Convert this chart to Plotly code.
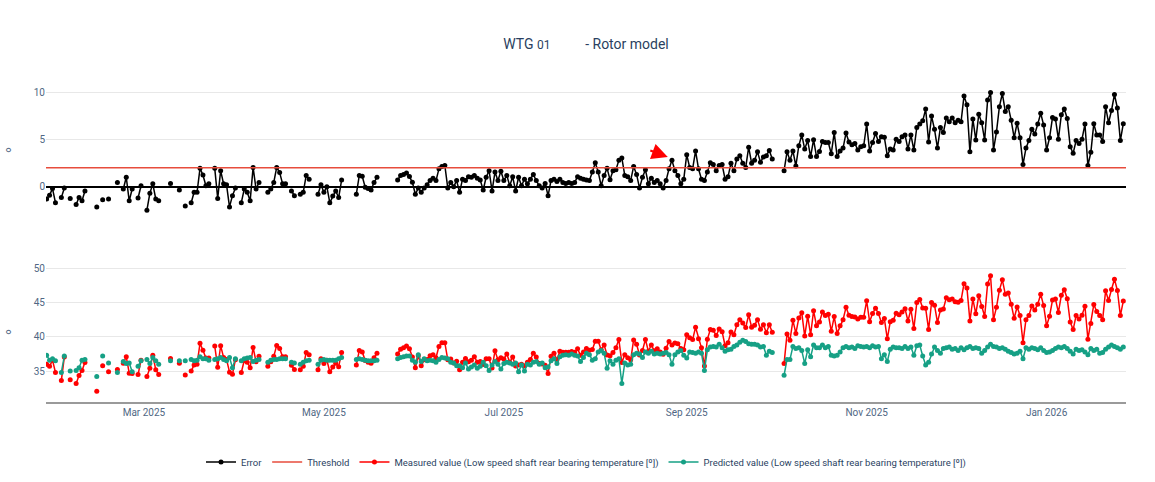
import pandas as pd
import plotly.graph_objects as go
from plotly.subplots import make_subplots

N = None
start_date = "2025-01-27"
n_days = 366
dates = pd.date_range(start_date, periods=n_days, freq="D")

error = [
    -1.3, -0.9, -0.2, -1.7, N, -1.15, -0.15, N, -1.25, N,
    -1.9, -1.15, -1.5, -0.45, N, N, N, -2.15, N, -1.4,
    N, -1.3, N, N, 0.45, N, -0.25, 1.0, -1.5, -0.25,
    N, -1.2, 0.1, N, -2.5, -0.7, 0.3, -1.3, -1.5, N,
    N, N, 0.35, N, N, -0.35, N, -2.05, N, -1.7,
    -0.6, -0.6, 1.95, 1.25, 0.1, 0.3, N, 1.95, -1.25, 1.7,
    0.3, 0.2, -2.15, -0.95, -0.15, N, -1.7, -0.25, -0.6, -1.5,
    2.05, -0.25, 0.45, N, N, -0.6, -0.25, 0.45, 2.05, 1.5,
    0.3, 0.3, N, -0.45, -0.95, N, -0.8, -0.6, 1.2, 0.8,
    N, N, -0.8, 0.2, -0.6, 0.0, -1.7, -1.0, -0.45, -1.15,
    0.7, N, N, N, N, -0.8, 1.2, 1.1, -0.05, -0.2,
    -0.35, 0.45, 1.0, N, N, N, N, N, N, 0.7,
    1.2, 1.3, 1.45, 1.07, 0.46, -0.8, -0.15, -0.6, -0.15, 0.2,
    0.65, 0.9, 0.65, 1.9, 2.15, 2.25, -0.15, 0.45, 0.0, 0.65,
    -0.6, 0.8, 0.65, 1.05, 1.0, 1.2, 0.9, 0.7, -0.35, 1.0,
    1.7, -0.45, 1.55, 0.65, 1.65, 0.65, 1.2, 0.1, 1.05, -0.45,
    1.0, 0.1, 0.8, 0.3, 0.8, 1.3, 0.65, 0.1, -0.15, 0.35,
    -0.95, 0.65, 0.8, 0.55, 0.8, 0.45, 0.35, 0.45, 0.35, 0.45,
    1.05, 0.9, 0.8, 0.7, 0.65, 1.55, 2.55, 1.55, 0.1, 1.2,
    1.95, 0.75, 1.7, 1.8, 2.8, 3.05, 1.2, 1.05, 0.65, 2.15,
    1.3, -0.15, 1.0, 1.8, 0.3, 0.9, 0.45, 0.65, 0.3, -0.15,
    0.65, 1.9, 2.8, 1.7, 1.2, 0.3, 0.8, 3.4, 2.05, 1.9,
    3.8, 1.9, 0.8, 0.65, 1.55, 2.55, 2.35, 1.7, 2.25, 2.35,
    0.8, 1.05, 2.5, 1.7, 2.95, 3.3, 2.5, 2.05, 4.2, 2.5,
    2.8, 3.7, 2.6, 3.15, 3.3, 3.85, 2.95, N, N, N,
    1.7, 3.7, 2.8, 3.8, 2.2, 4.35, 5.5, 4.0, 4.9, 3.2,
    5.0, 3.2, 3.75, 4.8, 4.7, 4.7, 3.5, 5.75, 3.2, 3.8,
    4.1, 5.7, 4.75, 4.45, 4.6, 3.9, 4.25, 4.35, 6.65, 3.8,
    4.7, 5.65, 4.8, 5.3, 5.25, 3.3, 4.0, 3.9, 5.05, 4.8,
    5.3, 5.5, 4.0, 5.5, 3.9, 6.3, 6.65, 7.0, 8.25, 4.75,
    7.5, 6.1, 4.1, 6.3, 5.75, 7.3, 6.9, 7.3, 6.8, 7.05,
    6.9, 9.65, 8.7, 3.7, 7.2, 4.95, 7.7, 6.8, 4.95, 9.2,
    10.0, 3.9, 5.8, 8.5, 9.9, 8.0, 8.5, 7.05, 5.2, 6.75,
    5.2, 2.35, 4.1, 4.9, 6.1, 5.6, 6.65, 7.8, 6.55, 3.9,
    5.2, 7.35, 7.2, 5.05, 7.65, 8.25, 7.25, 4.25, 3.55, 4.9,
    4.6, 5.05, 6.65, 2.25, 3.65, 6.7, 5.5, 5.5, 4.8, 8.5,
    6.8, 8.1, 9.8, 8.35, 4.9, 6.7,
]

predicted = [
    37.3, 36.6, 36.8, 36.5, N, 34.8, 37.2, N, 35.0, N,
    35.1, 35.5, 36.6, 36.7, N, N, N, 34.2, N, 37.2,
    N, 36.2, N, N, 34.8, N, 36.4, 36.1, 36.2, 34.9,
    N, 35.7, 36.5, N, 36.7, 36.1, 37.0, 36.5, 36.0, N,
    N, N, 36.5, N, N, 36.5, N, 36.5, N, 36.7,
    36.5, 36.6, 37.1, 36.8, 36.8, 36.6, N, 36.7, 36.8, 37.0,
    36.7, 36.5, 37.0, 35.5, 36.8, N, 36.5, 36.8, 36.9, 37.0,
    36.4, 36.6, 36.7, N, N, 36.3, 36.6, 36.7, 36.7, 36.8,
    36.8, 36.8, N, 36.3, 36.2, N, 36.0, 36.3, 36.5, 36.6,
    N, N, 36.0, 36.6, 36.7, 36.6, 36.6, 36.6, 36.6, 36.8,
    37.0, N, N, N, N, 36.7, 36.8, 36.7, 36.6, 36.5,
    36.5, 36.5, 36.6, N, N, N, N, N, N, 36.8,
    37.0, 37.1, 37.2, 37.2, 36.6, 36.3, 37.4, 36.4, 36.8, 36.5,
    36.6, 36.5, 36.3, 36.7, 37.0, 36.9, 36.8, 36.3, 36.2, 35.8,
    35.8, 35.5, 36.2, 35.3, 35.6, 35.9, 35.4, 35.7, 36.3, 35.8,
    35.1, 35.9, 36.4, 36.0, 35.3, 36.1, 36.3, 36.2, 36.0, 36.2,
    34.9, 35.9, 35.0, 36.0, 35.9, 36.3, 36.4, 36.0, 36.2, 35.5,
    35.6, 36.5, 36.8, 36.1, 37.1, 37.3, 37.4, 37.3, 37.5, 37.3,
    37.2, 36.4, 37.0, 37.6, 37.4, 36.6, 36.8, 37.8, 38.0, 37.6,
    35.4, 36.5, 36.0, 36.6, 36.8, 33.2, 36.2, 35.9, 36.0, 37.4,
    37.6, 37.5, 37.0, 37.8, 37.6, 37.9, 37.5, 37.6, 37.5, 37.6,
    37.7, 37.4, 36.0, 37.4, 37.8, 38.0, 37.3, 36.9, 37.8, 37.7,
    37.6, 37.8, 37.6, 35.1, 38.1, 38.5, 38.6, 38.5, 38.9, 38.4,
    37.9, 38.1, 38.2, 38.6, 38.8, 39.2, 39.5, 39.3, 39.0, 38.9,
    38.9, 38.8, 38.5, 38.6, 37.3, 37.9, 37.7, N, N, N,
    34.4, 36.7, 36.7, 38.6, 38.3, 38.4, 38.0, 36.1, 38.1, 37.1,
    38.8, 38.4, 38.4, 38.8, 38.4, 38.6, 37.3, 37.2, 37.3, 37.8,
    38.4, 38.6, 38.4, 38.5, 38.3, 38.7, 38.6, 38.5, 38.6, 38.4,
    38.7, 38.5, 38.6, 36.8, 37.4, 36.4, 38.2, 38.5, 38.4, 38.4,
    38.3, 38.6, 38.3, 38.5, 37.3, 38.7, 38.8, 37.2, 35.9, 36.3,
    37.5, 38.5, 38.0, 37.6, 38.3, 38.4, 38.5, 38.2, 38.3, 38.0,
    38.4, 38.1, 38.4, 38.6, 38.3, 38.4, 38.3, 37.6, 38.0, 38.5,
    38.9, 38.6, 38.5, 38.3, 38.4, 38.2, 37.9, 37.7, 37.5, 37.6,
    37.9, 36.8, 38.4, 38.2, 38.4, 38.3, 38.1, 38.4, 38.0, 37.7,
    37.8, 38.0, 38.3, 38.5, 38.4, 38.6, 38.3, 37.9, 37.5, 38.2,
    38.0, 38.1, 37.8, 37.4, 38.3, 38.0, 38.2, 37.6, 37.7, 38.2,
    38.5, 38.8, 38.6, 38.4, 38.2, 38.5,
]

measured = [
    36.0, 35.7, 36.6, 34.8, N, 33.65, 37.05, N, 33.75, N,
    33.2, 34.35, 35.1, 36.25, N, N, N, 32.05, N, 35.8,
    N, 34.9, N, N, 35.25, N, 36.15, 37.1, 34.7, 34.65,
    N, 34.5, 36.6, N, 34.2, 35.4, 37.3, 35.2, 34.5, N,
    N, N, 36.85, N, N, 36.15, N, 34.45, N, 35.0,
    35.9, 36.0, 39.05, 38.05, 36.9, 36.9, N, 38.65, 35.55, 38.7,
    37.0, 36.7, 34.85, 34.55, 36.65, N, 34.8, 36.55, 36.3, 35.5,
    38.45, 36.35, 37.15, N, N, 35.7, 36.35, 37.15, 38.75, 38.3,
    37.1, 37.1, N, 35.85, 35.25, N, 35.2, 35.7, 37.7, 37.4,
    N, N, 35.2, 36.8, 36.1, 36.6, 34.9, 35.6, 36.15, 35.65,
    37.7, N, N, N, N, 35.9, 38.0, 37.8, 36.55, 36.3,
    36.15, 36.95, 37.6, N, N, N, N, N, N, 37.5,
    38.2, 38.4, 38.65, 38.27, 37.06, 35.5, 37.25, 35.8, 36.65, 36.7,
    37.25, 37.4, 36.95, 38.6, 39.15, 39.15, 36.65, 36.75, 36.2, 36.45,
    35.2, 36.3, 36.85, 36.35, 36.6, 37.1, 36.3, 36.4, 35.95, 36.8,
    36.8, 35.45, 37.95, 36.65, 36.95, 36.75, 37.5, 36.3, 37.05, 35.75,
    35.9, 36.0, 35.8, 36.3, 36.7, 37.6, 37.05, 36.1, 36.05, 35.85,
    34.65, 37.15, 37.6, 36.65, 37.9, 37.75, 37.75, 37.75, 37.85, 37.75,
    38.25, 37.3, 37.8, 38.3, 38.05, 38.15, 39.35, 39.35, 38.1, 38.8,
    37.35, 37.25, 37.7, 38.4, 39.6, 36.25, 37.4, 36.95, 36.65, 39.55,
    38.9, 37.35, 38.0, 39.6, 37.9, 38.8, 37.95, 38.25, 37.8, 37.45,
    38.35, 39.3, 38.8, 39.1, 39.0, 38.3, 38.1, 40.3, 39.85, 39.6,
    41.4, 39.7, 38.4, 35.75, 39.65, 41.05, 40.95, 40.2, 41.15, 40.75,
    38.7, 39.15, 40.7, 40.3, 41.75, 42.5, 42.0, 41.35, 43.2, 41.4,
    41.7, 42.5, 41.1, 41.75, 40.6, 41.75, 40.65, N, N, N,
    36.1, 40.4, 39.5, 42.4, 40.5, 42.75, 43.5, 40.1, 43.0, 40.3,
    43.8, 41.6, 42.15, 43.6, 43.1, 43.3, 40.8, 42.95, 40.5, 41.6,
    42.5, 44.3, 43.15, 42.95, 42.9, 42.6, 42.85, 42.85, 45.25, 42.2,
    43.4, 44.15, 43.4, 42.1, 42.65, 39.7, 42.2, 42.4, 43.45, 43.2,
    43.6, 44.1, 42.3, 44.0, 41.2, 45.0, 45.45, 44.2, 44.15, 41.05,
    45.0, 44.6, 42.1, 43.9, 44.05, 45.7, 45.4, 45.5, 45.1, 45.05,
    45.3, 47.75, 47.1, 42.3, 45.5, 43.35, 46.0, 44.4, 42.95, 47.7,
    48.9, 42.5, 44.3, 46.8, 48.3, 46.2, 46.4, 44.75, 42.7, 44.35,
    43.1, 39.15, 42.5, 43.1, 44.5, 43.9, 44.75, 46.2, 44.55, 41.6,
    43.0, 45.35, 45.5, 43.55, 46.05, 46.85, 45.55, 42.15, 41.05, 43.1,
    42.6, 43.15, 44.45, 39.65, 41.95, 44.7, 43.7, 43.1, 42.5, 46.7,
    45.3, 46.9, 48.4, 46.75, 43.1, 45.2,
]

threshold_value = 2
x_range = ["2025-01-26 19:00", "2026-01-27 22:00"]
threshold_x = x_range
threshold_y = [threshold_value, threshold_value]

title_html = ("WTG <span style='font-size:12px'>01</span>" + "&nbsp;" * 10 + "- Rotor model")
measured_name = "Measured value (Low speed shaft rear bearing temperature [º])"
predicted_name = "Predicted value (Low speed shaft rear bearing temperature [º])"

BLACK = "#000000"
THR = "#e74c3c"
RED = "#ff0000"
TEAL = "#16a085"
FONT = "Roboto"
TXT = "#2a3f5f"
TICK = "#506784"
GRID = "#e8e8e8"

fig = make_subplots(rows=2, cols=1, shared_xaxes=True)

fig.add_trace(go.Scatter(x=dates, y=error, name="Error", mode="lines+markers",
                         line=dict(color=BLACK, width=1.5), marker=dict(color=BLACK, size=5)),
              row=1, col=1)
fig.add_trace(go.Scatter(x=threshold_x, y=threshold_y, name="Threshold", mode="lines",
                         line=dict(color=THR, width=1.5)), row=1, col=1)
fig.add_trace(go.Scatter(x=dates, y=measured, name=measured_name, mode="lines+markers",
                         line=dict(color=RED, width=1.5), marker=dict(color=RED, size=5)),
              row=2, col=1)
fig.add_trace(go.Scatter(x=dates, y=predicted, name=predicted_name, mode="lines+markers",
                         line=dict(color=TEAL, width=1.5), marker=dict(color=TEAL, size=5)),
              row=2, col=1)

fig.update_layout(
    template="plotly_white",
    width=1155, height=482,
    margin=dict(l=46, r=29, t=86, b=80, autoexpand=False),
    font=dict(family=FONT, size=10, color=TXT),
    title=dict(text=title_html, x=0.5, xref="paper", xanchor="center",
               y=1 - 44 / 482, yref="container", yanchor="middle",
               font=dict(family=FONT, size=14, color=TXT)),
    showlegend=True,
    legend=dict(orientation="h", x=0.5, xanchor="center",
                y=1 - 462 / 482, yref="container", yanchor="middle",
                font=dict(family=FONT, size=9.5, color=TXT)),
    plot_bgcolor="white", paper_bgcolor="white",
)

fig.update_xaxes(range=x_range, showgrid=False, zeroline=False)
fig.update_layout(
    xaxis=dict(showticklabels=False, showline=False),
    xaxis2=dict(showline=True, linecolor="#9a9a9a", linewidth=2, dtick="M2",
                tick0="2025-01-01", tickformat="%b %Y", ticks="", automargin=False,
                tickfont=dict(family=FONT, size=10, color=TICK)),
    yaxis=dict(domain=[0.595, 1.0], range=[-2.9, 10.7], dtick=5, gridcolor=GRID,
               zeroline=True, zerolinecolor=BLACK, zerolinewidth=1.5, automargin=False,
               tickfont=dict(family=FONT, size=10, color=TICK),
               title=dict(text="°", font=dict(family="DejaVu Sans", size=14, color=TICK),
                          standoff=12)),
    yaxis2=dict(domain=[0.0, 0.443], range=[30.5, 50.9], tickvals=[35, 40, 45, 50],
                gridcolor=GRID, zeroline=False, automargin=False,
                tickfont=dict(family=FONT, size=10, color=TICK),
                title=dict(text="°", font=dict(family="DejaVu Sans", size=14, color=TICK),
                           standoff=12)),
)

fig.add_annotation(x="2025-08-25 14:00", y=3.16, xref="x", yref="y", text="",
                   showarrow=True, arrowhead=2, arrowsize=1.6, arrowwidth=2,
                   arrowcolor="red", ax=-19, ay=-7)

fig.write_html("out.html", config={"displayModeBar": False},
               post_script="document.body.style.margin='0';")
